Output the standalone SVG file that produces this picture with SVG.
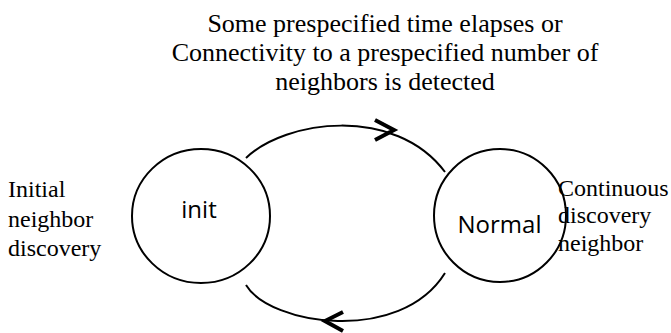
<svg xmlns="http://www.w3.org/2000/svg" width="671" height="333" viewBox="0 0 671 333">
<style>
.node{fill:none;stroke:#000;stroke-width:2}
.edge{fill:none;stroke:#000;stroke-width:2}
.head{fill:none;stroke:#000;stroke-width:4;stroke-linejoin:miter}
.serif{font-family:"Liberation Serif","Times New Roman",serif;fill:#000}
.sans{font-family:"Open Sans","Noto Sans",sans-serif;fill:#000;font-size:24px}
</style>
<rect width="671" height="333" fill="#fff"/>
<g id="title" class="serif" font-size="26" text-anchor="middle">
<text x="385" y="32">Some prespecified time elapses or</text>
<text x="385" y="61">Connectivity to a prespecified number of</text>
<text x="385" y="90">neighbors is detected</text>
</g>
<g id="connectors">
<path class="edge" d="M246,158 C285,120 395,105 445,172"/>
<polyline class="head" points="375,120 394,130 375,140"/>
<path class="edge" d="M246,285 C270,325 400,345 445,273"/>
<polyline class="head" points="343,312 325,321 343,331"/>
</g>
<g id="init">
<ellipse class="node" cx="201" cy="216" rx="69" ry="67"/>
<text class="sans" x="199" y="218" text-anchor="middle">init</text>
</g>
<g id="normal">
<ellipse class="node" cx="500" cy="215.5" rx="66" ry="66.5"/>
<text class="sans" x="499.5" y="233" text-anchor="middle">Normal</text>
</g>
<g id="init-label" class="serif" font-size="24">
<text x="8" y="197">Initial</text>
<text x="8" y="227">neighbor</text>
<text x="8" y="256">discovery</text>
</g>
<g id="normal-label" class="serif" font-size="24">
<text x="558" y="196">Continuous</text>
<text x="558" y="223">discovery</text>
<text x="558" y="251">neighbor</text>
</g>
</svg>
